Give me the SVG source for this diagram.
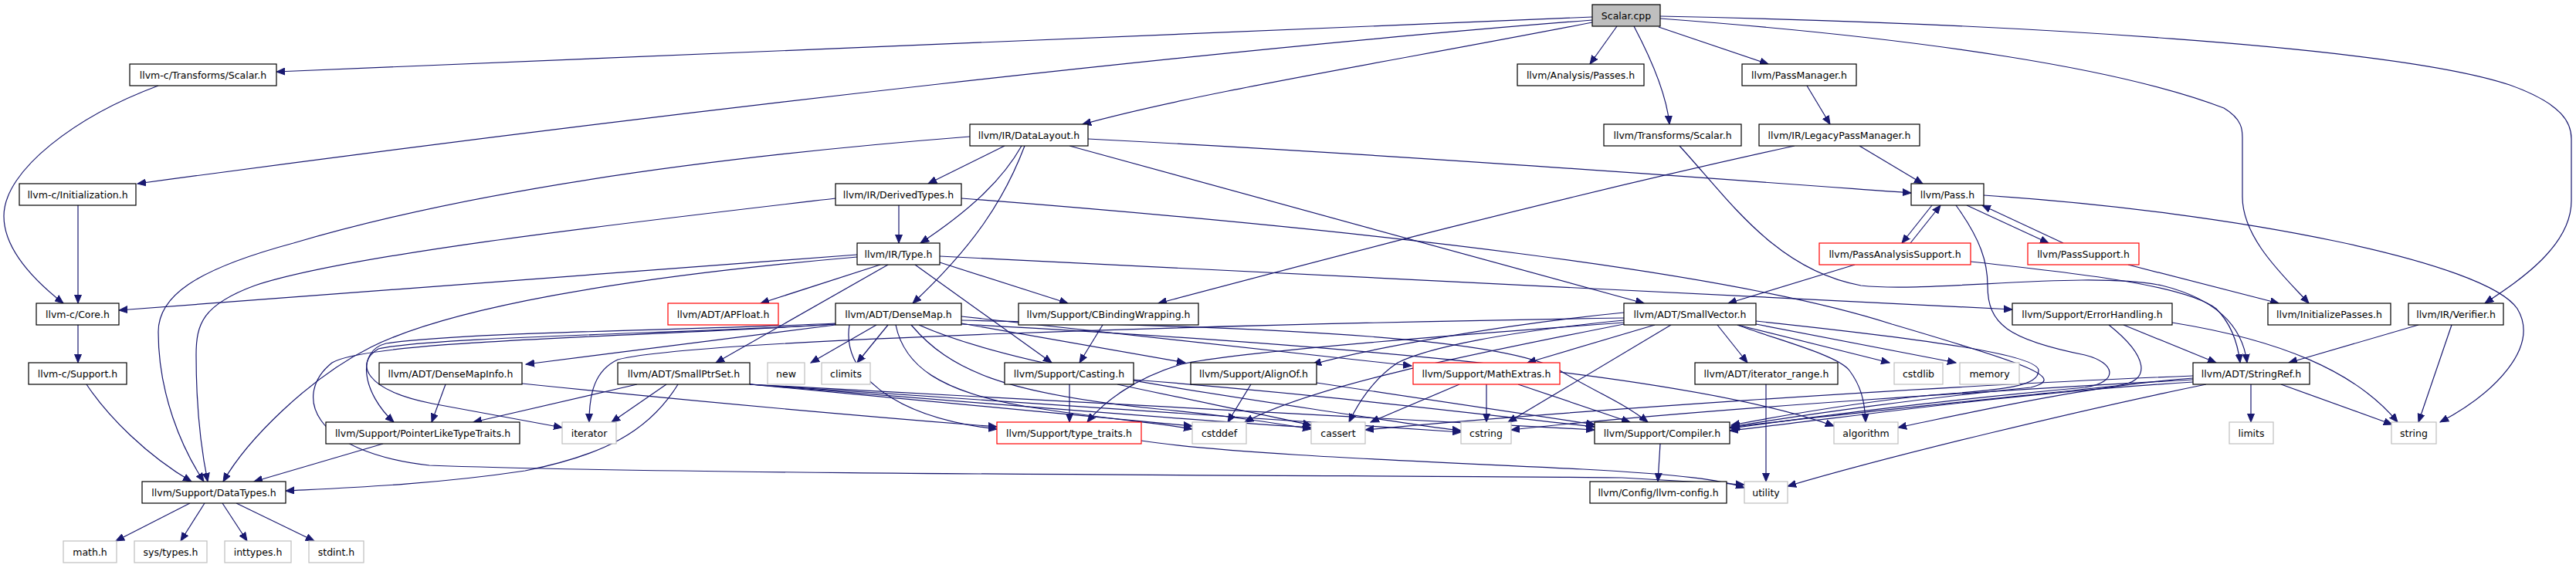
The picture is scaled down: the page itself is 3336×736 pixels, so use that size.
<svg xmlns="http://www.w3.org/2000/svg" width="3336" height="736" viewBox="0 0 3336 736">
<style>
.n rect{fill:#fff;stroke:#000;stroke-width:1.2}
.g rect{fill:#fff;stroke:#bfbfbf;stroke-width:1.2}
.r rect{fill:#fff;stroke:#f00;stroke-width:1.2}
.root rect{fill:#bfbfbf;stroke:#000;stroke-width:1.2}
text{font-family:"DejaVu Sans",sans-serif;font-size:12.5px;text-anchor:middle;fill:#000}
.e path{fill:none;stroke:#191970;stroke-width:1.2;marker-end:url(#a)}
</style>
<defs>
<marker id="a" markerUnits="userSpaceOnUse" markerWidth="12" markerHeight="10" refX="11" refY="5" orient="auto">
<path d="M0,0.5 L11,5 L0,9.5 z" fill="#191970" stroke="#191970" stroke-width="1"/>
</marker>
</defs>
<rect x="0" y="0" width="3336" height="736" fill="#fff"/>
<g id="edges" class="e">
<!-- Scalar.cpp -->
<path d="M2062,22 L358,93"/>
<path d="M2062,26 C1600,62 900,140 178,238"/>
<path d="M2062,29 C1800,80 1550,120 1402,161"/>
<path d="M2094,34 L2059,83"/>
<path d="M2116,34 C2135,70 2158,120 2162,161"/>
<path d="M2148,35 L2290,83"/>
<path d="M2150,24 C2500,50 2750,90 2880,140 C2905,155 2904,170 2904,180 L2904,255 C2904,310 2960,360 2990,393"/>
<path d="M2150,21 C2600,30 3100,60 3250,110 C3320,135 3330,160 3330,180 L3330,260 C3330,320 3260,365 3218,393"/>
<!-- llvm-c -->
<path d="M205,111 C100,150 5,220 5,280 C5,320 40,360 82,393"/>
<path d="M101,266 L101,393"/>
<path d="M101,421 L101,470"/>
<path d="M112,498 C140,540 190,590 248,624"/>
<!-- DataLayout -->
<path d="M1256,177 C900,205 600,250 380,315 C250,350 205,385 205,430 C205,510 235,580 264,624"/>
<path d="M1301,189 L1202,238"/>
<path d="M1323,189 C1300,230 1260,270 1192,315"/>
<path d="M1327,189 C1300,260 1260,320 1182,393"/>
<path d="M1385,189 L2129,393"/>
<path d="M1409,180 C1800,200 2200,230 2475,250"/>
<!-- DerivedTypes -->
<path d="M1164,266 L1164,315"/>
<path d="M1082,257 C800,290 450,330 330,370 C262,395 254,420 254,460 C254,540 262,590 269,624"/>
<path d="M1245,257 C1800,300 2250,355 2450,420 C2620,470 2680,490 2630,502 C2500,515 2350,535 2242,553"/>
<!-- Type.h -->
<path d="M1110,333 C800,360 580,400 480,450 C400,490 320,570 289,624"/>
<path d="M1110,330 L154,402"/>
<path d="M1140,343 L985,393"/>
<path d="M1150,343 L927,470"/>
<path d="M1185,343 L1362,470"/>
<path d="M1217,340 L1383,393"/>
<path d="M1217,332 L2606,401"/>
<!-- Pass.h cycle -->
<path d="M2502,266 L2463,315"/>
<path d="M2474,315 C2490,295 2502,280 2513,266"/>
<path d="M2547,266 L2653,315"/>
<path d="M2672,315 L2567,266"/>
<path d="M2569,253 C2900,275 3220,340 3260,400 C3290,450 3230,510 3160,547"/>
<path d="M2533,266 C2565,310 2574,340 2574,370 C2574,420 2600,440 2700,460 C2740,470 2745,495 2700,502 C2500,520 2350,540 2242,555"/>
<path d="M2756,343 L2951,393"/>
<path d="M2402,343 C2330,365 2280,380 2238,393"/>
<path d="M2552,339 C2700,355 2830,370 2870,400 C2890,420 2898,445 2901,470"/>
<!-- Transforms/Scalar, PassManagers -->
<path d="M2175,189 C2240,260 2300,350 2410,370 C2500,380 2700,350 2800,370 C2880,390 2905,430 2910,470"/>
<path d="M2408,189 L2490,238"/>
<path d="M2324,189 C2000,260 1700,340 1500,393"/>
<path d="M2340,111 L2370,161"/>
<!-- SmallVector -->
<path d="M2103,405 C1950,420 1780,450 1700,472"/>
<path d="M2143,421 L1978,470"/>
<path d="M2164,421 L1953,547"/>
<path d="M2103,415 C1950,430 1850,450 1810,470 C1780,490 1760,520 1747,547"/>
<path d="M2274,416 C2500,440 2640,460 2640,480 C2640,500 2600,505 2500,512 C2400,522 2300,540 2242,551"/>
<path d="M2103,418 C1800,440 1580,460 1530,472 C1470,490 1430,520 1408,547"/>
<path d="M2103,420 C1900,460 1700,500 1612,547"/>
<path d="M2103,412 C1600,420 900,440 800,466 C770,480 763,510 763,547"/>
<path d="M2224,421 L2263,470"/>
<path d="M2250,421 L2447,470"/>
<path d="M2274,420 L2533,470"/>
<path d="M2250,421 C2300,440 2380,460 2395,480 C2410,500 2415,520 2416,547"/>
<!-- MathExtras -->
<path d="M1890,498 L1775,547"/>
<path d="M1925,498 L1925,547"/>
<path d="M1966,498 L2111,547"/>
<!-- DenseMap -->
<path d="M1082,421 L681,472"/>
<path d="M1082,419 C900,428 600,430 500,445 C460,455 470,510 510,547"/>
<path d="M1082,420 C900,432 560,436 490,452 C460,470 470,505 560,523 L728,554"/>
<path d="M1082,420 C850,436 480,440 430,470 C380,510 400,585 556,603 C900,616 1900,616 2100,619 L2259,628"/>
<path d="M1135,421 L1050,470"/>
<path d="M1150,421 L1110,470"/>
<path d="M1245,419 L1535,470"/>
<path d="M1245,410 L1828,474"/>
<path d="M1245,415 C1700,425 1950,440 2020,480 C2060,505 2100,520 2134,547"/>
<path d="M1100,421 C1090,480 1150,540 1291,556"/>
<path d="M1180,421 C1230,480 1300,510 1500,530 C1600,540 1650,548 1698,556"/>
<path d="M1160,421 C1170,470 1210,510 1350,530 C1450,545 1500,548 1544,556"/>
<path d="M1190,421 C1300,470 1500,500 1700,530 C1800,545 1860,555 1892,558"/>
<path d="M1245,420 C1800,450 2200,490 2375,552"/>
<!-- DenseMapInfo, SmallPtrSet -->
<path d="M577,498 L559,547"/>
<path d="M676,497 C900,520 1100,538 1291,553"/>
<path d="M825,498 L613,547"/>
<path d="M863,498 L792,547"/>
<path d="M878,498 C840,560 780,590 680,610 C560,628 450,632 370,636"/>
<path d="M971,498 C1200,520 1400,540 1544,552"/>
<path d="M971,498 C1300,525 1550,545 1698,554"/>
<path d="M971,498 C1400,525 1700,548 1892,560"/>
<path d="M971,498 C1500,525 1900,545 2065,557"/>
<!-- Casting, CBinding, AlignOf, type_traits, PointerLike -->
<path d="M1385,498 L1385,547"/>
<path d="M1447,498 C1550,520 1650,540 1698,551"/>
<path d="M1468,492 C1700,510 1900,535 2065,553"/>
<path d="M1428,421 L1398,470"/>
<path d="M1620,498 L1590,547"/>
<path d="M1705,496 L2065,550"/>
<path d="M1478,571 C1600,590 1900,600 2050,608 C2180,615 2230,622 2259,632"/>
<path d="M496,575 L329,624"/>
<!-- Compiler, iterator_range -->
<path d="M2150,575 L2147,624"/>
<path d="M2287,498 L2287,624"/>
<!-- StringRef -->
<path d="M2915,498 L2915,547"/>
<path d="M2954,498 L3098,550"/>
<path d="M2840,490 C2700,500 2550,535 2458,554"/>
<path d="M2857,498 C2700,530 2450,590 2315,630"/>
<path d="M2840,492 C2600,505 2200,530 1957,557"/>
<path d="M2840,487 C2500,500 2000,535 1768,557"/>
<path d="M2840,495 C2600,510 2400,540 2240,558"/>
<!-- ErrorHandling, Verifier -->
<path d="M2750,421 L2870,470"/>
<path d="M2813,418 C2950,440 3050,480 3105,547"/>
<path d="M2731,421 C2780,460 2790,495 2740,500 C2550,520 2350,540 2240,554"/>
<path d="M3132,421 L2964,470"/>
<path d="M3175,421 L3132,547"/>
<!-- DataTypes -->
<path d="M246,652 L150,701"/>
<path d="M265,652 L234,701"/>
<path d="M288,652 L320,701"/>
<path d="M306,652 L407,701"/>
</g>
<g id="n1" class="root"><rect x="2062" y="6" width="88" height="28"/><text x="2106" y="25">Scalar.cpp</text></g>
<g id="n2" class="n"><rect x="168" y="83" width="190" height="28"/><text x="263" y="102">llvm-c/Transforms/Scalar.h</text></g>
<g id="n3" class="n"><rect x="1965" y="83" width="164" height="28"/><text x="2047" y="102">llvm/Analysis/Passes.h</text></g>
<g id="n4" class="n"><rect x="2256" y="83" width="148" height="28"/><text x="2330" y="102">llvm/PassManager.h</text></g>
<g id="n5" class="n"><rect x="25" y="238" width="151" height="28"/><text x="100.5" y="257">llvm-c/Initialization.h</text></g>
<g id="n6" class="n"><rect x="1256" y="161" width="153" height="28"/><text x="1332.5" y="180">llvm/IR/DataLayout.h</text></g>
<g id="n7" class="n"><rect x="2077" y="161" width="178" height="28"/><text x="2166" y="180">llvm/Transforms/Scalar.h</text></g>
<g id="n8" class="n"><rect x="2278" y="161" width="208" height="28"/><text x="2382" y="180">llvm/IR/LegacyPassManager.h</text></g>
<g id="n9" class="n"><rect x="1082" y="238" width="163" height="28"/><text x="1163.5" y="257">llvm/IR/DerivedTypes.h</text></g>
<g id="n10" class="n"><rect x="2475" y="238" width="94" height="28"/><text x="2522" y="257">llvm/Pass.h</text></g>
<g id="n11" class="n"><rect x="1110" y="315" width="107" height="28"/><text x="1163.5" y="334">llvm/IR/Type.h</text></g>
<g id="n12" class="r"><rect x="2356" y="315" width="196" height="28"/><text x="2454" y="334">llvm/PassAnalysisSupport.h</text></g>
<g id="n13" class="r"><rect x="2626" y="315" width="144" height="28"/><text x="2698" y="334">llvm/PassSupport.h</text></g>
<g id="n14" class="n"><rect x="47" y="393" width="107" height="28"/><text x="100.5" y="412">llvm-c/Core.h</text></g>
<g id="n15" class="r"><rect x="865" y="393" width="143" height="28"/><text x="936.5" y="412">llvm/ADT/APFloat.h</text></g>
<g id="n16" class="n"><rect x="1082" y="393" width="163" height="28"/><text x="1163.5" y="412">llvm/ADT/DenseMap.h</text></g>
<g id="n17" class="n"><rect x="1319" y="393" width="233" height="28"/><text x="1435.5" y="412">llvm/Support/CBindingWrapping.h</text></g>
<g id="n18" class="n"><rect x="2103" y="393" width="171" height="28"/><text x="2188.5" y="412">llvm/ADT/SmallVector.h</text></g>
<g id="n19" class="n"><rect x="2606" y="393" width="207" height="28"/><text x="2709.5" y="412">llvm/Support/ErrorHandling.h</text></g>
<g id="n20" class="n"><rect x="2937" y="393" width="159" height="28"/><text x="3016.5" y="412">llvm/InitializePasses.h</text></g>
<g id="n21" class="n"><rect x="3119" y="393" width="123" height="28"/><text x="3180.5" y="412">llvm/IR/Verifier.h</text></g>
<g id="n22" class="n"><rect x="37" y="470" width="127" height="28"/><text x="100.5" y="489">llvm-c/Support.h</text></g>
<g id="n23" class="n"><rect x="491" y="470" width="185" height="28"/><text x="583.5" y="489">llvm/ADT/DenseMapInfo.h</text></g>
<g id="n24" class="n"><rect x="800" y="470" width="171" height="28"/><text x="885.5" y="489">llvm/ADT/SmallPtrSet.h</text></g>
<g id="n25" class="g"><rect x="994" y="470" width="48" height="28"/><text x="1018" y="489">new</text></g>
<g id="n26" class="g"><rect x="1064" y="470" width="63" height="28"/><text x="1095.5" y="489">climits</text></g>
<g id="n27" class="n"><rect x="1301" y="470" width="167" height="28"/><text x="1384.5" y="489">llvm/Support/Casting.h</text></g>
<g id="n28" class="n"><rect x="1542" y="470" width="163" height="28"/><text x="1623.5" y="489">llvm/Support/AlignOf.h</text></g>
<g id="n29" class="r"><rect x="1830" y="470" width="190" height="28"/><text x="1925" y="489">llvm/Support/MathExtras.h</text></g>
<g id="n30" class="n"><rect x="2195" y="470" width="185" height="28"/><text x="2287.5" y="489">llvm/ADT/iterator_range.h</text></g>
<g id="n31" class="g"><rect x="2453" y="470" width="63" height="28"/><text x="2484.5" y="489">cstdlib</text></g>
<g id="n32" class="g"><rect x="2538" y="470" width="77" height="28"/><text x="2576.5" y="489">memory</text></g>
<g id="n33" class="n"><rect x="2840" y="470" width="151" height="28"/><text x="2915.5" y="489">llvm/ADT/StringRef.h</text></g>
<g id="n34" class="n"><rect x="422" y="547" width="251" height="28"/><text x="547.5" y="566">llvm/Support/PointerLikeTypeTraits.h</text></g>
<g id="n35" class="g"><rect x="728" y="547" width="70" height="28"/><text x="763" y="566">iterator</text></g>
<g id="n36" class="r"><rect x="1291" y="547" width="187" height="28"/><text x="1384.5" y="566">llvm/Support/type_traits.h</text></g>
<g id="n37" class="g"><rect x="1544" y="547" width="70" height="28"/><text x="1579" y="566">cstddef</text></g>
<g id="n38" class="g"><rect x="1698" y="547" width="70" height="28"/><text x="1733" y="566">cassert</text></g>
<g id="n39" class="g"><rect x="1892" y="547" width="65" height="28"/><text x="1924.5" y="566">cstring</text></g>
<g id="n40" class="n"><rect x="2065" y="547" width="175" height="28"/><text x="2152.5" y="566">llvm/Support/Compiler.h</text></g>
<g id="n41" class="g"><rect x="2375" y="547" width="83" height="28"/><text x="2416.5" y="566">algorithm</text></g>
<g id="n42" class="g"><rect x="2887" y="547" width="57" height="28"/><text x="2915.5" y="566">limits</text></g>
<g id="n43" class="g"><rect x="3097" y="547" width="58" height="28"/><text x="3126" y="566">string</text></g>
<g id="n44" class="n"><rect x="184" y="624" width="186" height="28"/><text x="277" y="643">llvm/Support/DataTypes.h</text></g>
<g id="n45" class="n"><rect x="2059" y="624" width="177" height="28"/><text x="2147.5" y="643">llvm/Config/llvm-config.h</text></g>
<g id="n46" class="g"><rect x="2259" y="624" width="56" height="28"/><text x="2287" y="643">utility</text></g>
<g id="n47" class="g"><rect x="82" y="701" width="69" height="28"/><text x="116.5" y="720">math.h</text></g>
<g id="n48" class="g"><rect x="174" y="701" width="94" height="28"/><text x="221" y="720">sys/types.h</text></g>
<g id="n49" class="g"><rect x="291" y="701" width="86" height="28"/><text x="334" y="720">inttypes.h</text></g>
<g id="n50" class="g"><rect x="400" y="701" width="71" height="28"/><text x="435.5" y="720">stdint.h</text></g>
</svg>
